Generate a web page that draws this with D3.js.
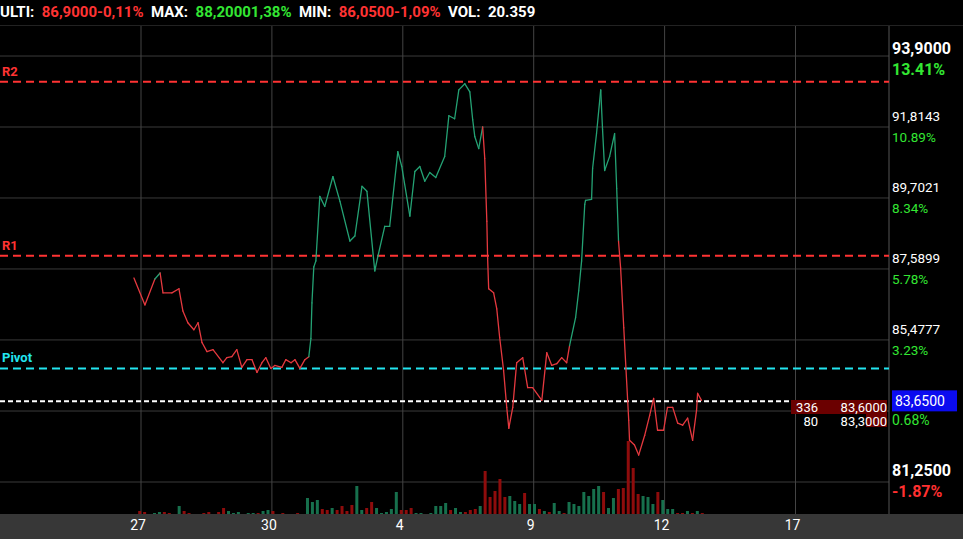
<!DOCTYPE html><html><head><meta charset="utf-8">
<script src="https://cdn.jsdelivr.net/npm/d3@7"></script>
<style>body{margin:0;background:#000}svg{display:block;font-family:Roboto,sans-serif}</style></head><body>
<script>
// time in trading days from the "27" gridline
const times=[-0.27,0.15,0.53,0.73,0.84,1.18,1.45,1.60,1.79,2.02,2.18,2.33,2.52,2.75,3.13,3.28,3.47,3.66,3.85,4.05,4.24,4.43,4.62,4.77,4.96,5.11,5.38,5.53,5.73,5.88,6.07,6.26,6.41,6.49,6.53,6.60,6.68,6.83,7.02,7.33,7.60,7.98,8.17,8.44,8.63,8.93,9.05,9.31,9.50,9.81,9.96,10.27,10.46,10.65,10.84,11.03,11.26,11.60,11.76,11.98,12.14,12.37,12.56,12.67,12.75,12.90,13.05,13.13,13.21,13.24,13.28,13.47,13.59,13.70,13.85,13.97,14.05,14.20,14.35,14.58,14.77,14.96,15.31,15.50,15.69,15.88,16.07,16.26,16.37,16.60,16.72,16.83,16.95,16.98,17.21,17.25,17.40,17.56,17.63,17.71,17.90,18.09,18.17,18.24,18.32,18.44,18.63,18.66,18.85,19.01,19.24,19.43,19.58,19.73,19.96,20.11,20.31,20.50,20.69,20.88,21.07,21.22,21.26,21.41];
const prices=[87.32,86.52,87.29,87.47,86.88,86.88,87.00,86.34,85.99,85.78,85.99,85.40,85.13,85.19,84.80,84.95,84.98,85.19,84.66,84.89,84.89,84.51,84.80,84.95,84.63,84.72,84.66,84.89,84.80,84.89,84.63,84.89,84.98,85.52,86.58,87.65,87.83,89.75,89.45,90.34,89.60,88.42,88.57,90.05,89.90,87.53,87.97,88.86,88.86,91.08,90.64,89.16,90.49,90.64,90.20,90.46,90.31,90.94,92.15,92.06,92.92,93.10,92.86,92.03,91.53,91.17,91.82,90.88,89.01,87.91,87.00,86.88,86.40,85.55,84.57,83.47,82.85,83.47,84.80,84.95,84.06,84.06,83.68,85.10,84.72,84.77,84.95,84.80,85.31,86.14,86.94,87.83,89.51,89.63,89.66,90.58,91.62,92.92,91.74,90.52,90.94,91.62,89.99,88.42,87.62,85.84,83.09,82.49,82.35,82.05,82.64,83.23,83.74,82.79,82.79,83.47,83.47,83.00,82.94,83.15,82.49,83.38,83.89,83.68];
const upLegs=[[0.53,0.73],[6.41,13.05],[16.37,18.24]];
const volumes=[3,2,0,1,2,2,1,0,8,3,1,0,0,1,2,0,2,6,3,1,2,0,1,1,1,3,4,3,0,1,0,0,1,0,16,12,14,5,4,6,4,8,3,9,28,4,6,12,6,1,2,5,22,4,4,6,1,1,0,1,8,8,11,4,6,2,2,4,5,8,43,17,23,35,17,18,13,10,21,10,10,5,3,2,11,3,1,12,10,8,22,18,25,28,22,6,16,25,26,73,46,20,18,17,10,22,14,5,5,1,1,3,1,3,1];
const volUp=[0,0,0,1,1,0,0,0,1,0,0,0,0,0,0,0,0,0,1,1,1,0,1,1,0,1,1,0,0,0,0,0,0,0,1,1,1,0,0,1,0,0,0,0,1,1,0,0,1,1,1,1,1,0,0,0,1,1,0,1,1,1,1,0,1,1,0,0,0,1,0,0,0,0,0,1,1,1,0,1,1,0,1,0,1,1,0,1,1,1,1,1,1,1,0,1,1,0,0,0,0,0,1,1,1,0,1,1,1,0,0,1,0,1,0];
const volStart=-0.05, volStep=0.1885;
const xTickLabels=["27","30","4","9","12","17"];
const xTickDays=[0,5,10,15,20,25];
const yTicks=[81.25,83.3621,85.4777,87.5899,89.7021,91.8143,93.9265];
const axisLabels=["81,2500","83,3621","85,4777","87,5899","89,7021","91,8143","93,9000"];
const axisPct=["-1.87%","0.68%","3.23%","5.78%","8.34%","10.89%","13.41%"];
const levels=[{name:"R2",v:93.16,c:"#ff3333"},{name:"R1",v:87.98,c:"#ff3333"},{name:"Pivot",v:84.63,c:"#22e5f0"}];
const last=83.65;
const book=[{q:"336",p:"83,6000"},{q:"80",p:"83,3000"}];

const W=963,H=539;
const svg=d3.select("body").append("svg").attr("width",W).attr("height",H);
svg.append("rect").attr("width",W).attr("height",H).attr("fill","#000");
const x=d3.scaleLinear().domain([0,25]).range([141,795.5]);
const y=d3.scaleLinear().domain([81.25,91.8143]).range([482,127]);
const topY=26,bot=514,right=889;
yTicks.forEach(v=>svg.append("line").attr("x1",0).attr("x2",right).attr("y1",y(v)).attr("y2",y(v)).attr("stroke","#3a3a3a"));
xTickDays.forEach(d=>svg.append("line").attr("x1",x(d)).attr("x2",x(d)).attr("y1",topY).attr("y2",bot).attr("stroke","#444"));
svg.append("line").attr("x1",right).attr("x2",right).attr("y1",topY).attr("y2",bot).attr("stroke","#555");
svg.append("line").attr("x1",0).attr("x2",W).attr("y1",topY-0.5).attr("y2",topY-0.5).attr("stroke","#222");
const yv=d3.scaleLinear().domain([0,73]).range([bot,441]);
svg.selectAll(".vb").data(volumes).join("rect")
 .attr("x",(d,i)=>x(volStart+i*volStep)-1.5).attr("width",3)
 .attr("y",d=>yv(d)).attr("height",d=>bot-yv(d))
 .attr("fill",(d,i)=>volUp[i]?"#17704d":"#8e0c0c");
levels.forEach(l=>{
 svg.append("line").attr("x1",0).attr("x2",right).attr("y1",y(l.v)).attr("y2",y(l.v)).attr("stroke",l.c).attr("stroke-width",2).attr("stroke-dasharray","8,5");
 svg.append("text").attr("x",2).attr("y",y(l.v)-6).attr("fill",l.c).attr("font-size",13).attr("font-weight","bold").text(l.name);
});
svg.append("line").attr("x1",0).attr("x2",790).attr("y1",y(last)).attr("y2",y(last)).attr("stroke","#fff").attr("stroke-width",2).attr("stroke-dasharray","5,3");
const pts=times.map((t,i)=>({t,v:prices[i]}));
const isUp=t=>upLegs.some(([a,b])=>t>=a&&t<b);
const ln=d3.line().x(d=>x(d.t)).y(d=>y(d.v));
for(let i=1;i<pts.length;i++){
 svg.append("path").attr("d",ln([pts[i-1],pts[i]]))
  .attr("fill","none").attr("stroke",isUp(pts[i-1].t)?"#24a274":"#e5393f").attr("stroke-width",1.3).attr("stroke-linecap","round");
}
svg.append("rect").attr("x",791).attr("y",400).attr("width",96).attr("height",14).attr("fill","#6b0000");
svg.append("rect").attr("x",866).attr("y",414).attr("width",21).attr("height",13).attr("fill","#6b0000");
book.forEach((b,i)=>{
 svg.append("text").attr("x",818).attr("y",412+i*14).attr("text-anchor","end").attr("fill","#fff").attr("font-size",13).text(b.q);
 svg.append("text").attr("x",887).attr("y",412+i*14).attr("text-anchor","end").attr("fill","#fff").attr("font-size",13).text(b.p);
});
yTicks.forEach((v,i)=>{
 if(i===1)return;
 const big=(i===0||i===yTicks.length-1);
 const yy=i===yTicks.length-1?y(v)-2:y(v)-6;
 svg.append("text").attr("x",892).attr("y",yy).attr("fill","#fff").attr("font-size",big?16:13.5).attr("font-weight",big?"bold":"normal").text(axisLabels[i]);
 svg.append("text").attr("x",892).attr("y",yy+21).attr("fill",axisPct[i].startsWith("-")?"#ff3030":"#33e633").attr("font-size",big?16:13.5).attr("font-weight",big?"bold":"normal").text(axisPct[i]);
});
svg.append("rect").attr("x",892).attr("y",y(last)-11).attr("width",65).attr("height",21).attr("fill","#0b0bf0");
svg.append("text").attr("x",895).attr("y",y(last)+5).attr("fill","#fff").attr("font-size",14).text("83,6500");
svg.append("text").attr("x",892).attr("y",y(last)+24).attr("fill","#33e633").attr("font-size",14).text(axisPct[1]);
svg.append("rect").attr("x",0).attr("y",bot).attr("width",W).attr("height",H-bot).attr("fill","#373737");
xTickDays.forEach((d,i)=>svg.append("text").attr("x",x(d)-3).attr("y",530).attr("text-anchor","middle").attr("fill","#fff").attr("font-size",14).text(xTickLabels[i]));
const hdr=[["ULTI:  ","#fff"],["86,9000-0,11%  ","#ff3333"],["MAX:  ","#fff"],["88,20001,38%  ","#33e633"],["MIN:  ","#fff"],["86,0500-1,09%  ","#ff3333"],["VOL:  ","#fff"],["20.359","#fff"]];
const ht=svg.append("text").attr("x",0).attr("y",17).attr("font-size",15).attr("font-weight","bold").attr("xml:space","preserve");
hdr.forEach(h=>ht.append("tspan").attr("fill",h[1]).text(h[0]));
</script></body></html>
